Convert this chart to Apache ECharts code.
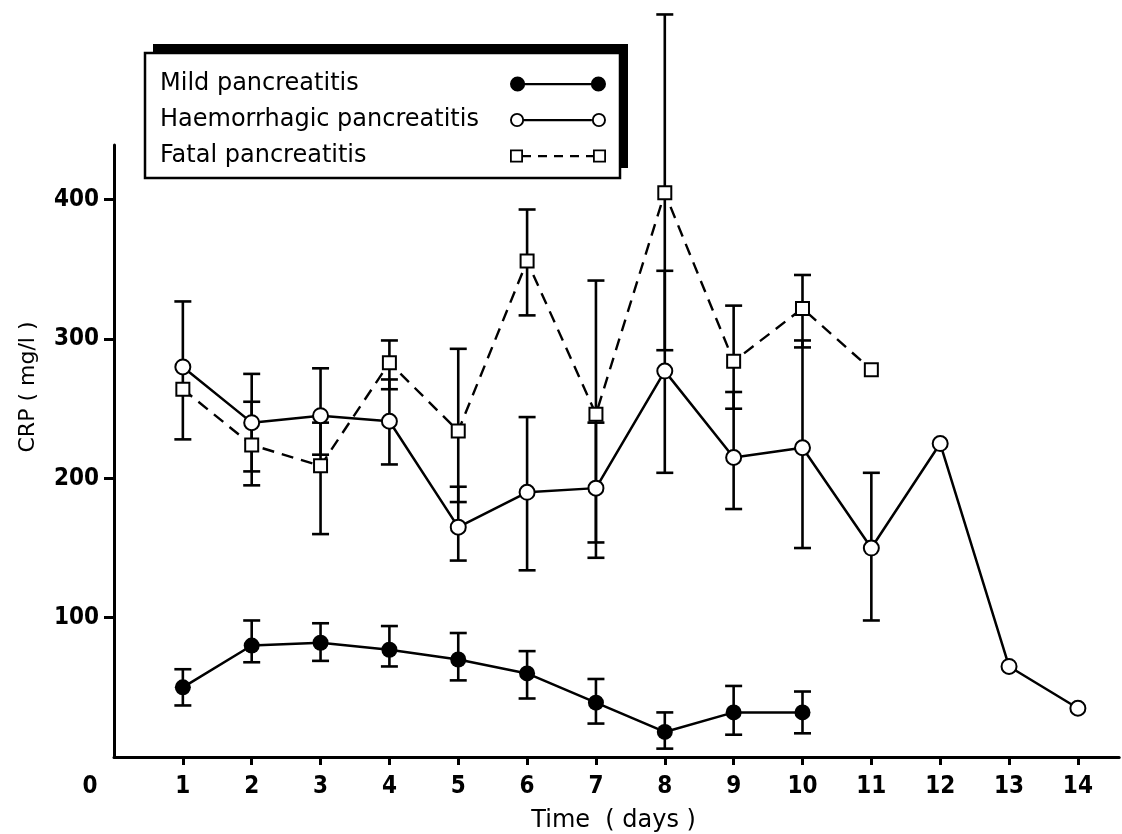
<!DOCTYPE html>
<html><head><meta charset="utf-8">
<script src="https://cdn.jsdelivr.net/npm/echarts@6/dist/echarts.min.js"></script>
<style>html,body{margin:0;padding:0;background:#fff}#c{width:1122px;height:834px}</style>
</head><body><div id="c"></div>
<script>
// ---- data ----
const days = [1,2,3,4,5,6,7,8,9,10,11,12,13,14];
const seriesNames = ['Mild pancreatitis','Haemorrhagic pancreatitis','Fatal pancreatitis'];
const mildMean = [50,80,82,77,70,60,39,18,32,32];
const mildLow  = [37,68,69,65,55,42,24,6,16,17];
const mildHigh = [63,98,96,94,89,76,56,32,51,47];
const haemMean = [280,240,245,241,165,190,193,277,215,222,150,225,65,35];
const haemLow  = [228,195,217,210,141,134,143,204,178,150,98,null,null,null];
const haemHigh = [327,275,279,271,194,244,240,349,262,299,204,null,null,null];
const fatalMean = [264,224,209,283,234,356,246,405,284,322,278];
const fatalLow  = [null,205,160,264,183,317,154,292,250,294,null];
const fatalHigh = [null,255,240,299,293,393,342,533,324,346,null];
const xTickValues = [1,2,3,4,5,6,7,8,9,10,11,12,13,14];
const xLabelValues = [0,1,2,3,4,5,6,7,8,9,10,11,12,13,14];
const yTickValues = [100,200,300,400];

// ---- helpers ----
const tickFont = "'Liberation Sans Narrow','DejaVu Sans Condensed',sans-serif";
const textFont = "'DejaVu Sans',sans-serif";
function pts(mean){ return mean.map((v,i)=>[days[i], v]); }
function errs(low, high){
  const out=[];
  low.forEach((l,i)=>{ if(l!=null && high[i]!=null) out.push([days[i], l, high[i]]); });
  return out;
}
function renderErr(params, api){
  const x = api.value(0);
  const lo = api.coord([x, api.value(1)]);
  const hi = api.coord([x, api.value(2)]);
  const hw = 8.5;
  const st = {stroke:'#000', lineWidth:2.6, fill:null};
  return {type:'group', children:[
    {type:'line', shape:{x1:lo[0],y1:lo[1],x2:hi[0],y2:hi[1]}, style:st},
    {type:'line', shape:{x1:hi[0]-hw,y1:hi[1],x2:hi[0]+hw,y2:hi[1]}, style:st},
    {type:'line', shape:{x1:lo[0]-hw,y1:lo[1],x2:lo[0]+hw,y2:lo[1]}, style:st}
  ]};
}
function errSeries(name, low, high){
  return {type:'custom', name:name, data:errs(low,high), clip:false, silent:true, z:2,
    encode:{x:0, y:[1,2]}, renderItem:renderErr};
}

// legend icons (line with markers at both ends)
const iconFilled = 'path://M0.5,7.5A7.5,7.5,0,1,1,15.5,7.5A7.5,7.5,0,1,1,0.5,7.5Z'+
  'M14,6.4L82,6.4L82,8.7L14,8.7Z'+
  'M80.5,7.5A7.5,7.5,0,1,1,95.5,7.5A7.5,7.5,0,1,1,80.5,7.5Z';
const iconOpen = 'path://M0.5,7.5A7,7,0,1,1,14.5,7.5A7,7,0,1,1,0.5,7.5Z'+
  'M2.4,7.5A5.1,5.1,0,1,0,12.6,7.5A5.1,5.1,0,1,0,2.4,7.5Z'+
  'M14,6.4L81.5,6.4L81.5,8.7L14,8.7Z'+
  'M81.5,7.5A7,7,0,1,1,95.5,7.5A7,7,0,1,1,81.5,7.5Z'+
  'M83.4,7.5A5.1,5.1,0,1,0,93.6,7.5A5.1,5.1,0,1,0,83.4,7.5Z';
const iconDash = 'path://M0,0L13,0L13,13L0,13Z M1.8,1.8L1.8,11.2L11.2,11.2L11.2,1.8Z'+
  'M13,5.5L21,5.5L21,7.7L13,7.7Z M28,5.5L37,5.5L37,7.7L28,7.7Z M44,5.5L53,5.5L53,7.7L44,7.7Z'+
  'M60,5.5L69,5.5L69,7.7L60,7.7Z M76,5.5L83,5.5L83,7.7L76,7.7Z'+
  'M83,0L96,0L96,13L83,13Z M84.8,1.8L84.8,11.2L94.2,11.2L94.2,1.8Z';
const legendIcons = [iconFilled, iconOpen, iconDash];

const chart = echarts.init(document.getElementById('c'), null, {renderer:'canvas'});
chart.setOption({
  animation:false,
  backgroundColor:'#fff',
  textStyle:{fontFamily:textFont, color:'#000'},
  grid:{left:114, right:2.8, top:145, bottom:77, containLabel:false, outerBoundsMode:'none'},
  graphic:[
    // offset shadow of the legend frame
    {type:'rect', left:153, top:44, z:0, silent:true,
      shape:{width:475, height:124}, style:{fill:'#000'}}
  ],
  legend:{
    orient:'vertical', left:145, top:53, align:'right', z:10,
    padding:[19,14,10,15], itemGap:12, itemWidth:96, itemHeight:16,
    backgroundColor:'#fff', borderColor:'#000', borderWidth:2.5, borderRadius:0,
    selectedMode:false,
    formatter:function(n){ return '{t|'+n+'}'; },
    textStyle:{fontFamily:textFont, fontSize:24, color:'#000',
      rich:{t:{width:345, align:'left', fontFamily:textFont, fontSize:24, lineHeight:26, color:'#000'}}},
    data:seriesNames.map((n,i)=>({name:n, icon:legendIcons[i], itemStyle:{color:'#000', borderWidth:0, borderColor:'#000'}}))
  },
  xAxis:{
    type:'value', min:0, max:14.6, interval:1,
    name:'Time  ( days )', nameLocation:'middle', nameGap:52,
    nameTextStyle:{fontFamily:textFont, fontSize:24, color:'#000', padding:[0,6,0,0]},
    axisLine:{show:true, onZero:false, lineStyle:{color:'#000', width:3}},
    axisTick:{show:true, length:8, lineStyle:{color:'#000', width:3}, customValues:xTickValues},
    axisLabel:{show:true, customValues:xLabelValues, margin:18, color:'#000',
      fontFamily:tickFont, fontSize:24, fontWeight:'bold',
      formatter:function(v){ return v===0 ? '{z|0}' : String(v); },
      rich:{z:{padding:[0,48,0,0], fontFamily:tickFont, fontSize:24, fontWeight:'bold', color:'#000'}}},
    splitLine:{show:false}
  },
  yAxis:{
    type:'value', min:0, max:439.3, interval:100,
    name:'CRP ( mg/l )', nameLocation:'middle', nameGap:75, nameRotate:90,
    nameTextStyle:{fontFamily:textFont, fontSize:22, color:'#000', padding:[0,0,0,128]},
    axisLine:{show:true, onZero:false, lineStyle:{color:'#000', width:3}},
    axisTick:{show:true, length:10, lineStyle:{color:'#000', width:3}, customValues:yTickValues},
    axisLabel:{show:true, customValues:yTickValues, margin:15, color:'#000',
      fontFamily:tickFont, fontSize:24, fontWeight:'bold'},
    splitLine:{show:false}
  },
  series:[
    errSeries('mild-err', mildLow, mildHigh),
    errSeries('haem-err', haemLow, haemHigh),
    errSeries('fatal-err', fatalLow, fatalHigh),
    {type:'line', name:seriesNames[0], data:pts(mildMean), symbol:'circle', symbolSize:16,
      showAllSymbol:true, silent:true, z:3,
      itemStyle:{color:'#000'}, lineStyle:{color:'#000', width:2.5}},
    {type:'line', name:seriesNames[1], data:pts(haemMean), symbol:'circle', symbolSize:15,
      showAllSymbol:true, silent:true, z:4,
      itemStyle:{color:'#fff', borderColor:'#000', borderWidth:2}, lineStyle:{color:'#000', width:2.5}},
    {type:'line', name:seriesNames[2], data:pts(fatalMean), symbol:'rect', symbolSize:13,
      showAllSymbol:true, silent:true, z:4,
      itemStyle:{color:'#fff', borderColor:'#000', borderWidth:2}, lineStyle:{color:'#000', width:2.4, type:[12,8]}}
  ]
});
</script>
</body></html>
